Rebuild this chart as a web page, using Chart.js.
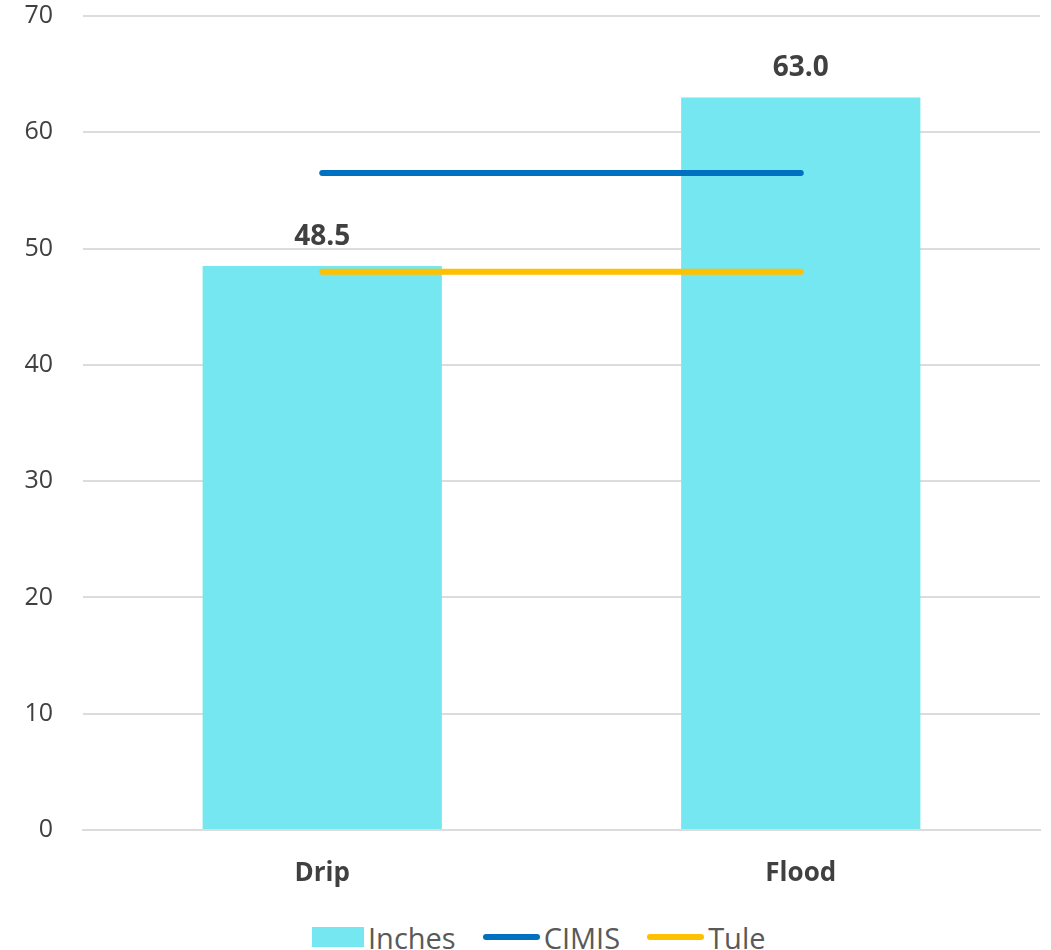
<!DOCTYPE html>
<html>
<head>
<meta charset="utf-8">
<script src="https://cdn.jsdelivr.net/npm/chart.js@4/dist/chart.umd.min.js"></script>
<style>
  html, body { margin: 0; padding: 0; background: #fff; overflow: hidden; }
  #wrap { position: relative; width: 1051px; height: 950px; }
  #box { position: absolute; left: 0; top: 0; width: 1051px; height: 905px; }
  #legend {
    position: absolute; left: 312px; top: 917px; height: 40px;
    display: flex; align-items: center;
    font-family: "Open Sans", "Noto Sans", sans-serif; font-size: 29px; color: #595959;
  }
  #legend .item { display: flex; align-items: center; margin-right: 27px; }
  #legend .swatch { width: 52px; height: 20px; margin-right: 4px; }
  #legend .line { width: 57px; height: 6px; border-radius: 3px; margin-right: 4px; }
</style>
</head>
<body>
<div id="wrap">
  <div id="box"><canvas id="chart"></canvas></div>
  <div id="legend"></div>
</div>
<script>
const categories = ['Drip', 'Flood'];
const inches = [48.5, 63.0];
const cimis = [56.5, 56.5];
const tule = [48.0, 48.0];

const textColor = '#404040';
const fontFamily = '"Open Sans", "Noto Sans", sans-serif';

// value labels above bars
const barLabels = {
    id: 'barLabels',
    afterDatasetsDraw(chart) {
        const ctx = chart.ctx;
        const meta = chart.getDatasetMeta(0);
        ctx.save();
        ctx.font = 'bold 28px ' + fontFamily;
        ctx.fillStyle = textColor;
        ctx.textAlign = 'center';
        ctx.textBaseline = 'alphabetic';
        meta.data.forEach((bar, i) => {
            ctx.fillText(inches[i].toFixed(1), bar.x, bar.y - 21);
        });
        ctx.restore();
    }
};

const ctx = document.getElementById('chart').getContext('2d');
const chart = new Chart(ctx, {
    data: {
        labels: categories,
        datasets: [
            {
                type: 'bar',
                label: 'Inches',
                data: inches,
                backgroundColor: '#75E7F0',
                borderWidth: 0,
                barPercentage: 0.5,
                categoryPercentage: 1,
                order: 2
            },
            {
                type: 'line',
                label: 'CIMIS',
                data: cimis,
                borderColor: '#0070C0',
                backgroundColor: '#0070C0',
                borderWidth: 6,
                borderCapStyle: 'round',
                pointRadius: 0,
                fill: false,
                order: 1
            },
            {
                type: 'line',
                label: 'Tule',
                data: tule,
                borderColor: '#FFC000',
                backgroundColor: '#FFC000',
                borderWidth: 6,
                borderCapStyle: 'round',
                pointRadius: 0,
                fill: false,
                order: 1
            }
        ]
    },
    options: {
        responsive: true,
        maintainAspectRatio: false,
        animation: false,
        layout: { padding: { left: 0, right: 11, top: 0, bottom: 0 } },
        plugins: {
            tooltip: { enabled: false },
            legend: { display: false }
        },
        scales: {
            x: {
                grid: { display: false, drawTicks: false },
                border: { display: true, color: '#dcdcdc', width: 2 },
                ticks: {
                    color: textColor,
                    padding: 28,
                    font: { family: fontFamily, size: 26, weight: 'bold' }
                },
                afterFit(scale) {
                    scale.height = 75;
                    scale.paddingLeft = 0;
                    scale.paddingRight = 0;
                }
            },
            y: {
                min: 0,
                max: 70,
                ticks: {
                    stepSize: 10,
                    color: textColor,
                    padding: 30,
                    font: { family: fontFamily, size: 25 }
                },
                grid: { color: '#dcdcdc', lineWidth: 2, drawTicks: false },
                border: { display: false },
                afterFit(scale) {
                    scale.width = 83;
                    scale.paddingTop = 16;
                    scale.paddingBottom = 0;
                }
            }
        }
    },
    plugins: [barLabels]
});

// html legend built from the datasets
const legendEl = document.getElementById('legend');
chart.data.datasets.forEach(ds => {
    const item = document.createElement('div');
    item.className = 'item';
    const mark = document.createElement('span');
    mark.className = ds.type === 'bar' ? 'swatch' : 'line';
    mark.style.background = ds.type === 'bar' ? ds.backgroundColor : ds.borderColor;
    const txt = document.createElement('span');
    txt.textContent = ds.label;
    item.appendChild(mark);
    item.appendChild(txt);
    legendEl.appendChild(item);
});
</script>
</body>
</html>
